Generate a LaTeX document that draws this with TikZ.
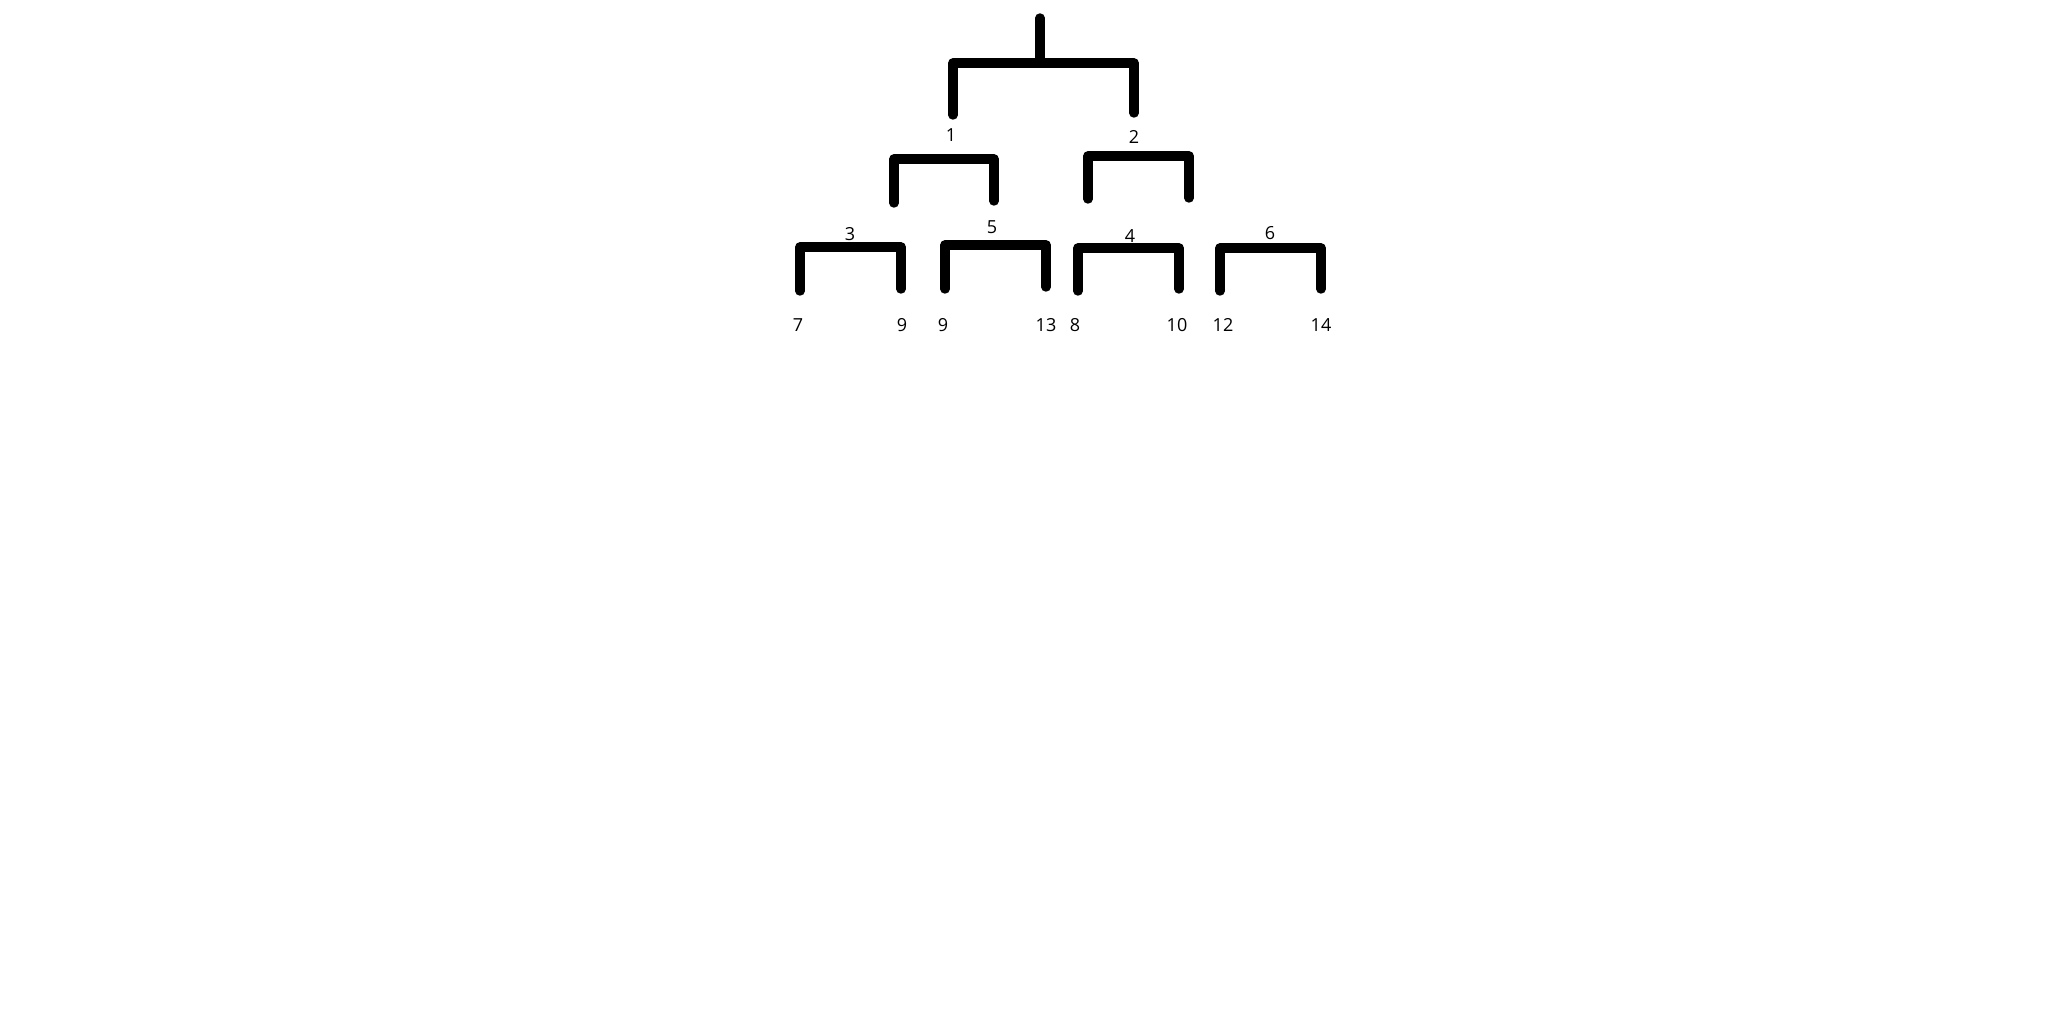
\documentclass[tikz,border=0pt]{standalone}
\usepackage{fontspec}
\setmainfont{Open Sans}
\begin{document}
\begin{tikzpicture}[x=0.5pt,y=-0.5pt,
  bracket/.style={line width=4.7pt,line cap=round,line join=round},
  lbl/.style={inner sep=0pt,font=\fontsize{9pt}{11pt}\selectfont}]
\useasboundingbox[fill=white] (0,0) rectangle (2056,1032);
% root
\coordinate (top) at (1040,18);
\coordinate (rootmid) at (1040,63);
\coordinate (r1) at (953,63);
\coordinate (r1b) at (953,115);
\coordinate (r2) at (1134,63);
\coordinate (r2b) at (1134,113);
\draw[bracket] (top) -- (rootmid);
\draw[bracket] (r1b) -- (r1) -- (r2) -- (r2b);
\node[lbl] (n1) at (951,135) {1};
\node[lbl] (n2) at (1134,137) {2};
% level 2
\coordinate (a1) at (894,159); \coordinate (a1b) at (894,203);
\coordinate (a2) at (994,159); \coordinate (a2b) at (994,201);
\draw[bracket] (a1b) -- (a1) -- (a2) -- (a2b);
\coordinate (b1) at (1088,156); \coordinate (b1b) at (1088,199);
\coordinate (b2) at (1189,156); \coordinate (b2b) at (1189,198);
\draw[bracket] (b1b) -- (b1) -- (b2) -- (b2b);
% level 3
\coordinate (c1) at (800,247); \coordinate (c1b) at (800,291);
\coordinate (c2) at (901,247); \coordinate (c2b) at (901,289);
\draw[bracket] (c1b) -- (c1) -- (c2) -- (c2b);
\coordinate (d1) at (945,245); \coordinate (d1b) at (945,289);
\coordinate (d2) at (1046,245); \coordinate (d2b) at (1046,287);
\draw[bracket] (d1b) -- (d1) -- (d2) -- (d2b);
\coordinate (e1) at (1078,248); \coordinate (e1b) at (1078,291);
\coordinate (e2) at (1179,248); \coordinate (e2b) at (1179,289);
\draw[bracket] (e1b) -- (e1) -- (e2) -- (e2b);
\coordinate (f1) at (1220,248); \coordinate (f1b) at (1220,291);
\coordinate (f2) at (1321,248); \coordinate (f2b) at (1321,289);
\draw[bracket] (f1b) -- (f1) -- (f2) -- (f2b);
\node[lbl] (n3) at (850,234) {3};
\node[lbl] (n5) at (992,227) {5};
\node[lbl] (n4) at (1130,236) {4};
\node[lbl] (n6) at (1270,233) {6};
% leaves
\node[lbl] (l7) at (798,325) {7};
\node[lbl] (l9a) at (902,325) {9};
\node[lbl] (l9b) at (943,325) {9};
\node[lbl] (l13) at (1046,325) {13};
\node[lbl] (l8) at (1075,325) {8};
\node[lbl] (l10) at (1177,325) {10};
\node[lbl] (l12) at (1223,325) {12};
\node[lbl] (l14) at (1321,325) {14};
\end{tikzpicture}
\end{document}
